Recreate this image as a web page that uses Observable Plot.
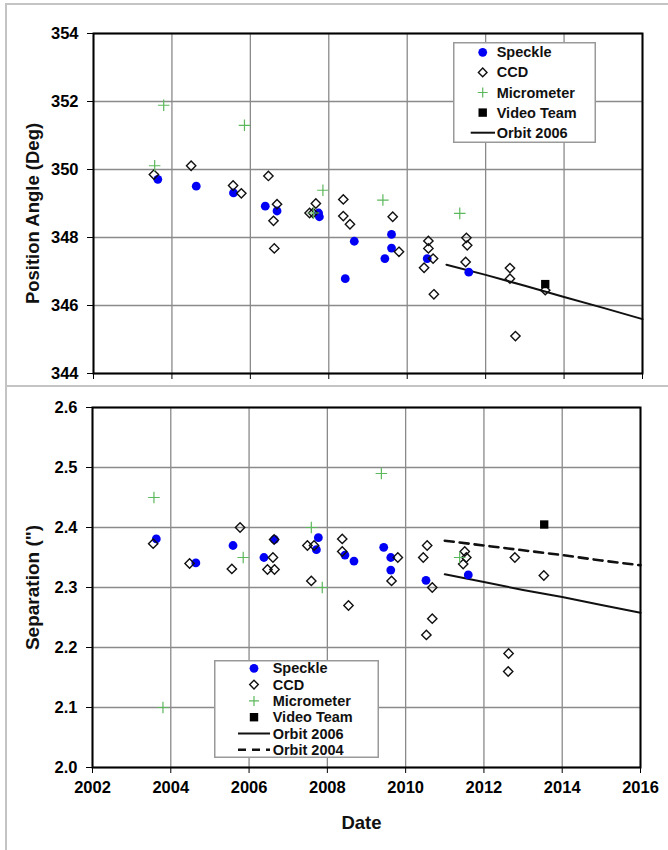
<!DOCTYPE html>
<html><head><meta charset="utf-8">
<script src="https://cdn.jsdelivr.net/npm/d3@7"></script>
<script src="https://cdn.jsdelivr.net/npm/@observablehq/plot@0.6"></script>
<style>
html,body{margin:0;padding:0;background:#fff;}
#wrap{position:relative;width:668px;height:850px;overflow:hidden;font-family:"Liberation Sans",Arial,sans-serif;font-weight:bold;}
.panel{position:absolute;left:0;}
.border{position:absolute;background:#c4c4c4;}
</style></head><body><div id="wrap"></div>
<script>
// ---------- DATA ----------
const xTicks = [2002, 2004, 2006, 2008, 2010, 2012, 2014, 2016];
const paTicks = [344, 346, 348, 350, 352, 354];
const sepTicks = [2.0, 2.1, 2.2, 2.3, 2.4, 2.5, 2.6];

// Position angle (deg) vs date
const paSpeckle = [[2003.64,349.71],[2004.62,349.51],[2005.57,349.31],[2006.38,348.92],[2006.68,348.78],[2007.74,348.72],[2007.76,348.61],[2008.65,347.89],[2008.42,346.79],[2009.60,348.09],[2009.60,347.69],[2009.43,347.38],[2010.51,347.38],[2011.57,346.98]];
const paCCD = [[2003.54,349.85],[2004.49,350.11],[2005.56,349.53],[2005.77,349.30],[2006.46,349.81],[2006.68,348.98],[2006.59,348.49],[2006.61,347.68],[2007.67,349.00],[2007.51,348.72],[2007.60,348.72],[2008.37,349.12],[2008.37,348.63],[2008.54,348.39],[2009.63,348.61],[2009.79,347.58],[2010.54,347.90],[2010.54,347.68],[2010.66,347.38],[2010.43,347.11],[2010.68,346.33],[2011.51,347.99],[2011.53,347.77],[2011.49,347.28],[2012.62,347.10],[2012.62,346.79],[2013.52,346.45],[2012.76,345.10]];
const paMicrometer = [[2003.56,350.11],[2003.79,351.89],[2005.85,351.30],[2007.61,348.72],[2007.85,349.39],[2009.38,349.10],[2011.34,348.71]];
const paVideo = [[2013.52,346.63]];

// Separation (") vs date
const sepSpeckle = [[2003.63,2.381],[2004.64,2.341],[2005.59,2.370],[2006.38,2.350],[2006.65,2.380],[2007.77,2.383],[2007.72,2.363],[2008.45,2.354],[2008.68,2.344],[2009.44,2.367],[2009.62,2.350],[2009.62,2.329],[2010.52,2.312],[2011.60,2.321]];
const sepCCD = [[2003.55,2.373],[2004.48,2.340],[2005.77,2.400],[2005.56,2.331],[2006.64,2.380],[2006.61,2.350],[2006.47,2.330],[2006.65,2.330],[2007.49,2.370],[2007.66,2.370],[2007.59,2.311],[2008.38,2.381],[2008.38,2.360],[2008.54,2.270],[2009.80,2.350],[2009.64,2.311],[2010.55,2.370],[2010.45,2.350],[2010.68,2.300],[2010.68,2.248],[2010.53,2.221],[2011.51,2.360],[2011.55,2.350],[2011.47,2.339],[2012.79,2.350],[2013.53,2.320],[2012.63,2.190],[2012.62,2.160]];
const sepMicrometer = [[2003.57,2.450],[2003.80,2.100],[2005.85,2.350],[2007.59,2.400],[2007.87,2.300],[2009.38,2.490],[2011.38,2.350]];
const sepVideo = [[2013.54,2.405]];

// Orbits
const orbitYears = [2011, 2012, 2013, 2014, 2015, 2016];
const orbit2006PA = [347.20, 346.90, 346.58, 346.25, 345.93, 345.60];
const orbit2006Sep = [2.322, 2.309, 2.296, 2.284, 2.271, 2.258];
const orbit2004Sep = [2.378, 2.370, 2.362, 2.354, 2.345, 2.337];

// ---------- STYLE ----------
const FONT = '"Liberation Sans", Arial, Helvetica, sans-serif';
const GREEN = "#5cb85c";
const BLUE = "#0000f5";
const GRID = "#8a8a8a";

const toObj = arr => arr.map(([x, y]) => ({x, y}));
const orbitLine = ys => orbitYears.map((x, i) => ({x, y: ys[i]}));

function seriesMarks(sp, ccd, mic, vid) {
  return [
    Plot.dot(toObj(sp), {x: "x", y: "y", r: 4.4, fill: BLUE}),
    Plot.dot(toObj(ccd), {x: "x", y: "y", symbol: "diamond2", r: 4.2, stroke: "#111", strokeWidth: 1.4, fill: "none"}),
    Plot.dot(toObj(mic), {x: "x", y: "y", symbol: "plus", r: 3.8, stroke: GREEN, strokeWidth: 1.2}),
    Plot.dot(toObj(vid), {x: "x", y: "y", symbol: "square", r: 4.7, fill: "black"})
  ];
}

const wrap = document.getElementById("wrap");

// Top panel
const topPlot = Plot.plot({
  width: 668, height: 385,
  marginTop: 33, marginBottom: 12, marginLeft: 93, marginRight: 26,
  style: {fontFamily: FONT, fontWeight: "bold", fontSize: "16.5px", color: "#000", background: "transparent", overflow: "visible"},
  x: {domain: [2002, 2016]},
  y: {domain: [344, 354]},
  marks: [
    Plot.gridX({ticks: xTicks, stroke: GRID, strokeOpacity: 1, strokeWidth: 1.3}),
    Plot.gridY({ticks: paTicks, stroke: GRID, strokeOpacity: 1, strokeWidth: 1.3}),
    Plot.axisX({ticks: xTicks, tickSize: 6, tickFormat: () => "", label: null}),
    Plot.axisY({ticks: paTicks, tickSize: 6, tickPadding: 9, tickFormat: d => String(d), label: null}),
    Plot.line(orbitLine(orbit2006PA), {x: "x", y: "y", stroke: "#111", strokeWidth: 2}),
    ...seriesMarks(paSpeckle, paCCD, paMicrometer, paVideo),
    Plot.frame({stroke: "black", strokeWidth: 2}),
    Plot.text(["Position Angle (Deg)"], {frameAnchor: "left", rotate: -90, dx: -60, dy: 10, fontSize: 18.5, textAnchor: "middle", lineAnchor: "middle", fill: "#111"})
  ]
});
topPlot.classList.add("panel");
topPlot.style.top = "0px";
wrap.appendChild(topPlot);

// Bottom panel
const botPlot = Plot.plot({
  width: 668, height: 464,
  marginTop: 21, marginBottom: 83, marginLeft: 92, marginRight: 28,
  style: {fontFamily: FONT, fontWeight: "bold", fontSize: "16.5px", color: "#000", background: "transparent", overflow: "visible"},
  x: {domain: [2002, 2016]},
  y: {domain: [2.0, 2.6]},
  marks: [
    Plot.gridX({ticks: xTicks, stroke: GRID, strokeOpacity: 1, strokeWidth: 1.3}),
    Plot.gridY({ticks: sepTicks, stroke: GRID, strokeOpacity: 1, strokeWidth: 1.3}),
    Plot.axisX({ticks: xTicks, tickSize: 6, tickPadding: 8, tickFormat: d => String(d), label: null}),
    Plot.axisY({ticks: sepTicks, tickSize: 6, tickPadding: 9, tickFormat: d3.format(".1f"), label: null}),
    Plot.line(orbitLine(orbit2006Sep), {x: "x", y: "y", stroke: "#111", strokeWidth: 2}),
    Plot.line(orbitLine(orbit2004Sep), {x: "x", y: "y", stroke: "#111", strokeWidth: 2.6, strokeDasharray: "9,6"}),
    ...seriesMarks(sepSpeckle, sepCCD, sepMicrometer, sepVideo),
    Plot.frame({stroke: "black", strokeWidth: 2}),
    Plot.text(["Separation (\")"], {frameAnchor: "left", rotate: -90, dx: -60, dy: 0, fontSize: 19, textAnchor: "middle", lineAnchor: "middle", fill: "#111"}),
    Plot.text(["Date"], {frameAnchor: "bottom", dx: -5, dy: 56, fontSize: 18.5, textAnchor: "middle", lineAnchor: "middle", fill: "#111"})
  ]
});
botPlot.classList.add("panel");
botPlot.style.top = "386px";
wrap.appendChild(botPlot);

// Outer picture borders
[[6, 3, 662, 2], [5, 3, 2, 847], [5, 385, 663, 2]].forEach(([l, t, w, h]) => {
  const d = document.createElement("div");
  d.className = "border";
  Object.assign(d.style, {left: l + "px", top: t + "px", width: w + "px", height: h + "px"});
  wrap.appendChild(d);
});

// Legends
function drawLegend({left, top, width, height, y0, rowH, markerX, textX, lineX0, lineX1, items}) {
  const svg = d3.select(wrap).append("svg")
    .attr("width", width).attr("height", height)
    .style("position", "absolute").style("left", left + "px").style("top", top + "px")
    .style("font-family", FONT).style("font-weight", "bold").style("font-size", "14.5px");
  svg.append("rect").attr("x", 0.75).attr("y", 0.75).attr("width", width - 1.5).attr("height", height - 1.5)
    .attr("fill", "white").attr("stroke", "#999").attr("stroke-width", 1.5);
  items.forEach(([label, kind], i) => {
    const cy = y0 - top + i * rowH, mx = markerX - left;
    if (kind === "speckle") svg.append("circle").attr("cx", mx).attr("cy", cy).attr("r", 4.4).attr("fill", BLUE);
    if (kind === "ccd") svg.append("path").attr("d", `M${mx},${cy - 4.3}L${mx + 4.3},${cy}L${mx},${cy + 4.3}L${mx - 4.3},${cy}Z`).attr("fill", "white").attr("stroke", "#111").attr("stroke-width", 1.4);
    if (kind === "micro") svg.append("path").attr("d", `M${mx - 5},${cy}H${mx + 5}M${mx},${cy - 5}V${cy + 5}`).attr("stroke", GREEN).attr("stroke-width", 1.2);
    if (kind === "video") svg.append("rect").attr("x", mx - 4.2).attr("y", cy - 4.2).attr("width", 8.4).attr("height", 8.4).attr("fill", "black");
    if (kind === "solid" || kind === "dash") {
      const ln = svg.append("line").attr("x1", lineX0 - left).attr("x2", lineX1 - left).attr("y1", cy).attr("y2", cy)
        .attr("stroke", "#111").attr("stroke-width", kind === "dash" ? 2.6 : 2);
      if (kind === "dash") ln.attr("stroke-dasharray", "8,6");
    }
    svg.append("text").attr("x", textX - left).attr("y", cy).attr("dy", "0.35em").attr("fill", "#111").text(label);
  });
}

drawLegend({left: 453, top: 42, width: 143, height: 101, y0: 52.3, rowH: 20.1, markerX: 482.7, textX: 496.7, lineX0: 470.7, lineX1: 495,
  items: [["Speckle", "speckle"], ["CCD", "ccd"], ["Micrometer", "micro"], ["Video Team", "video"], ["Orbit 2006", "solid"]]});
drawLegend({left: 214, top: 660, width: 165, height: 98, y0: 668.3, rowH: 16.3, markerX: 254, textX: 272.7, lineX0: 238, lineX1: 270,
  items: [["Speckle", "speckle"], ["CCD", "ccd"], ["Micrometer", "micro"], ["Video Team", "video"], ["Orbit 2006", "solid"], ["Orbit 2004", "dash"]]});
</script>
</body></html>
